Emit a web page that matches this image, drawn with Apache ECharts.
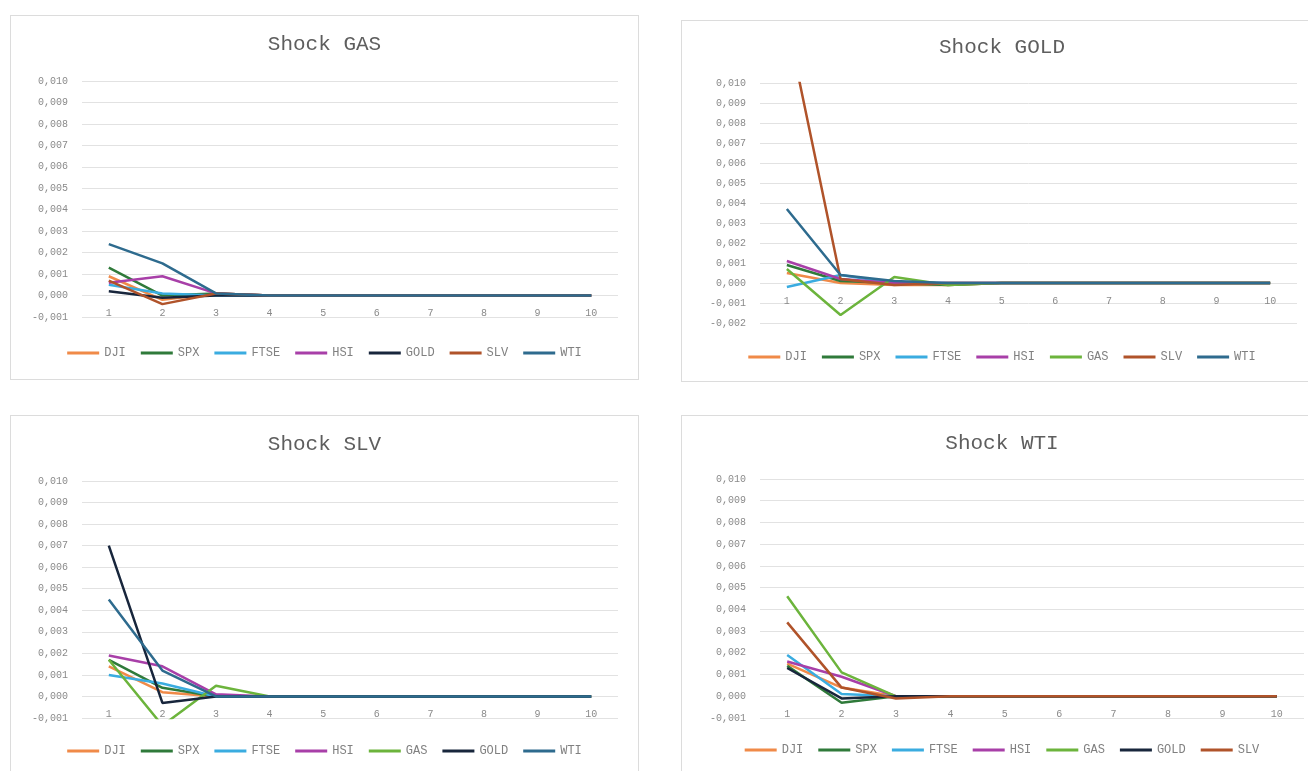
<!DOCTYPE html>
<html>
<head>
<meta charset="utf-8">
<script src="https://cdn.jsdelivr.net/npm/echarts@6/dist/echarts.min.js"></script>
<style>
  html, body { margin: 0; padding: 0; background: #fff; overflow: hidden; }
  body { width: 1308px; height: 771px; position: relative; }
  .panel { position: absolute; border: 1px solid #dcdcdc; background: #fff; }
</style>
</head>
<body>
<div id="chart_gas" class="panel" style="left:10px;top:15px;width:627px;height:363px;"></div>
<div id="chart_gold" class="panel" style="left:681px;top:20px;width:640px;height:360px;"></div>
<div id="chart_slv" class="panel" style="left:10px;top:415px;width:627px;height:380px;"></div>
<div id="chart_wti" class="panel" style="left:681px;top:415px;width:640px;height:380px;"></div>
<script>
// periods 1..10
var periods = ['1', '2', '3', '4', '5', '6', '7', '8', '9', '10'];

// Shock GAS
var gasDJI  = [0.0009, -0.0002, 0.0001, 0, 0, 0, 0, 0, 0, 0];
var gasSPX  = [0.0013, 0.0000, 0.0001, 0, 0, 0, 0, 0, 0, 0];
var gasFTSE = [0.0005, 0.0001, 0.0000, 0, 0, 0, 0, 0, 0, 0];
var gasHSI  = [0.0006, 0.0009, 0.0001, 0, 0, 0, 0, 0, 0, 0];
var gasGOLD = [0.0002, -0.0001, 0.0000, 0, 0, 0, 0, 0, 0, 0];
var gasSLV  = [0.0007, -0.0004, 0.0001, 0, 0, 0, 0, 0, 0, 0];
var gasWTI  = [0.0024, 0.0015, 0.0001, 0, 0, 0, 0, 0, 0, 0];

// Shock GOLD
var goldDJI  = [0.0005, 0.0000, -0.0001, -0.0001, 0, 0, 0, 0, 0, 0];
var goldSPX  = [0.0009, 0.0001, 0.0000, -0.0001, 0, 0, 0, 0, 0, 0];
var goldFTSE = [-0.0002, 0.0004, 0.0000, 0, 0, 0, 0, 0, 0, 0];
var goldHSI  = [0.0011, 0.0002, 0.0000, 0, 0, 0, 0, 0, 0, 0];
var goldGAS  = [0.0007, -0.0016, 0.0003, -0.0001, 0, 0, 0, 0, 0, 0];
var goldSLV  = [0.0131, 0.0002, -0.0001, 0, 0, 0, 0, 0, 0, 0];
var goldWTI  = [0.0037, 0.0004, 0.0001, 0, 0, 0, 0, 0, 0, 0];

// Shock SLV
var slvDJI  = [0.0014, 0.0002, 0.0000, 0, 0, 0, 0, 0, 0, 0];
var slvSPX  = [0.0017, 0.0004, 0.0000, 0, 0, 0, 0, 0, 0, 0];
var slvFTSE = [0.0010, 0.0006, 0.0000, 0, 0, 0, 0, 0, 0, 0];
var slvHSI  = [0.0019, 0.0014, 0.0001, 0, 0, 0, 0, 0, 0, 0];
var slvGAS  = [0.0017, -0.00135, 0.0005, 0, 0, 0, 0, 0, 0, 0];
var slvGOLD = [0.0070, -0.0003, 0.0000, 0, 0, 0, 0, 0, 0, 0];
var slvWTI  = [0.0045, 0.0012, 0.0000, 0, 0, 0, 0, 0, 0, 0];

// Shock WTI
var wtiDJI  = [0.0015, 0.0004, 0.0000, 0, 0, 0, 0, 0, 0, 0];
var wtiSPX  = [0.0014, -0.0003, 0.0000, 0, 0, 0, 0, 0, 0, 0];
var wtiFTSE = [0.0019, 0.0001, 0.0000, 0, 0, 0, 0, 0, 0, 0];
var wtiHSI  = [0.0016, 0.0009, 0.0000, 0, 0, 0, 0, 0, 0, 0];
var wtiGAS  = [0.0046, 0.0011, 0.0000, 0, 0, 0, 0, 0, 0, 0];
var wtiGOLD = [0.0013, -0.0001, 0.0000, 0, 0, 0, 0, 0, 0, 0];
var wtiSLV  = [0.0034, 0.0004, -0.0001, 0, 0, 0, 0, 0, 0, 0];

var colors = {
    DJI: '#f08a48',
    SPX: '#2f7a3a',
    FTSE: '#3aace0',
    HSI: '#a83fa8',
    GAS: '#6cb43c',
    GOLD: '#18263c',
    SLV: '#b0532a',
    WTI: '#2e6b8e'
};

var FONT = 'Liberation Mono';

function fmt(v) {
    if (Math.abs(v) < 1e-9) return '0,000';
    return v.toFixed(3).replace('.', ',');
}

// labelMargin: negative pulls the period labels up just under the zero line
function setChart(id, title, names, datas, yMin, grid, titleTop, legendTop, labelMargin) {
    var chart = echarts.init(document.getElementById(id));
    var series = names.map(function (n, i) {
        return {
            name: n,
            type: 'line',
            data: datas[i],
            symbol: 'none',
            clip: true,
            lineStyle: { width: 2.5, color: colors[n] },
            itemStyle: { color: colors[n] }
        };
    });
    chart.setOption({
        animation: false,
        title: {
            text: title,
            left: 'center',
            top: titleTop,
            textStyle: { fontFamily: FONT, fontSize: 21, fontWeight: 'normal', color: '#5e5e5e' }
        },
        legend: {
            data: names,
            left: 'center',
            top: legendTop,
            icon: 'rect',
            itemWidth: 32,
            itemHeight: 3,
            itemGap: 15,
            textStyle: { fontFamily: FONT, fontSize: 12, color: '#808080' }
        },
        grid: grid,
        xAxis: {
            type: 'category',
            data: periods,
            boundaryGap: true,
            axisLine: { show: false },
            axisTick: { show: false },
            axisLabel: { fontFamily: FONT, fontSize: 10, color: '#8a8a8a', margin: labelMargin }
        },
        yAxis: {
            type: 'value',
            min: yMin,
            max: 0.010,
            interval: 0.001,
            axisLine: { show: false },
            axisTick: { show: false },
            axisLabel: { fontFamily: FONT, fontSize: 10, color: '#8a8a8a', margin: 14, formatter: fmt },
            splitLine: { lineStyle: { color: '#e2e2e2', width: 1 } }
        },
        series: series
    });
    return chart;
}

setChart('chart_gas', 'Shock GAS',
    ['DJI', 'SPX', 'FTSE', 'HSI', 'GOLD', 'SLV', 'WTI'],
    [gasDJI, gasSPX, gasFTSE, gasHSI, gasGOLD, gasSLV, gasWTI],
    -0.001, { left: 71, width: 536, top: 65, height: 236 }, 13, 326, -9);

setChart('chart_gold', 'Shock GOLD',
    ['DJI', 'SPX', 'FTSE', 'HSI', 'GAS', 'SLV', 'WTI'],
    [goldDJI, goldSPX, goldFTSE, goldHSI, goldGAS, goldSLV, goldWTI],
    -0.002, { left: 78, width: 537, top: 62, height: 240 }, 11, 325, -27);

setChart('chart_slv', 'Shock SLV',
    ['DJI', 'SPX', 'FTSE', 'HSI', 'GAS', 'GOLD', 'WTI'],
    [slvDJI, slvSPX, slvFTSE, slvHSI, slvGAS, slvGOLD, slvWTI],
    -0.001, { left: 71, width: 536, top: 65, height: 237 }, 13, 324, -9);

setChart('chart_wti', 'Shock WTI',
    ['DJI', 'SPX', 'FTSE', 'HSI', 'GAS', 'GOLD', 'SLV'],
    [wtiDJI, wtiSPX, wtiFTSE, wtiHSI, wtiGAS, wtiGOLD, wtiSLV],
    -0.001, { left: 78, width: 544, top: 63, height: 239 }, 12, 323, -9);
</script>
</body>
</html>
